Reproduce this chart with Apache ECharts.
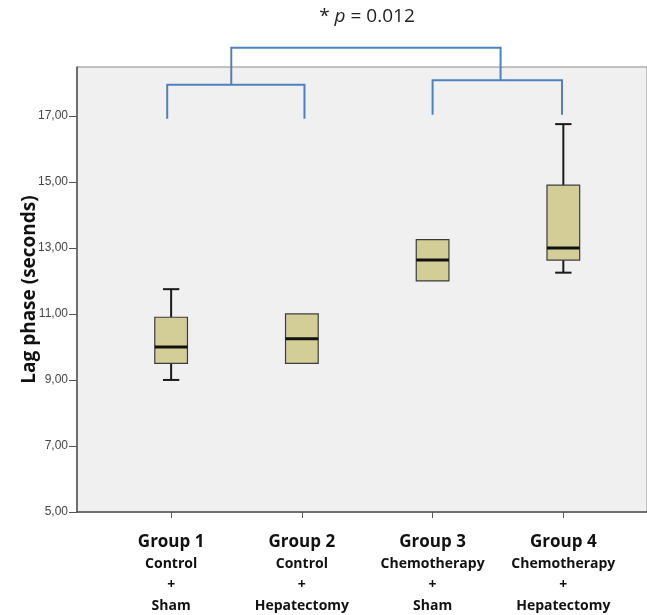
<!DOCTYPE html>
<html>
<head>
<meta charset="utf-8">
<script src="https://cdn.jsdelivr.net/npm/echarts@6/dist/echarts.min.js"></script>
<style>
  html, body { margin: 0; padding: 0; background: #fff; }
  #main { width: 647px; height: 615px; }
</style>
</head>
<body>
<div id="main"></div>
<script>
// groups on the x axis
var groupNames = ['Group 1', 'Group 2', 'Group 3', 'Group 4'];
var groupTreat = ['Control', 'Control', 'Chemotherapy', 'Chemotherapy'];
var groupSurg = ['Sham', 'Hepatectomy', 'Sham', 'Hepatectomy'];
var groupPos = [1, 2, 3, 4];

// box statistics (seconds)
var mins = [9.0, 9.5, 12.0, 12.25];
var q1s = [9.5, 9.5, 12.0, 12.63];
var medians = [10.0, 10.25, 12.63, 13.0];
var q3s = [10.9, 11.0, 13.25, 14.9];
var maxs = [11.75, 11.0, 13.25, 16.75];

// y axis tick labels
var yTicks = [5, 7, 9, 11, 13, 15, 17];

// significance brackets: [x left, x right, y top, y left end, y right end]
var bracketLow1 = [0.97, 2.02, 17.94, 16.91, 16.91];
var bracketLow2 = [3.0, 3.99, 18.08, 17.03, 17.03];
var bracketTop = [1.46, 3.52, 19.06, 17.94, 18.08];

var boxData = [];
for (var i = 0; i < groupPos.length; i++) {
	boxData.push([groupPos[i], mins[i], q1s[i], medians[i], q3s[i], maxs[i]]);
}

function renderBox(params, api) {
	var x = api.value(0);
	var w = api.size([1, 0])[0] * 0.25;
	var pMin = api.coord([x, api.value(1)]);
	var pQ1 = api.coord([x, api.value(2)]);
	var pMed = api.coord([x, api.value(3)]);
	var pQ3 = api.coord([x, api.value(4)]);
	var pMax = api.coord([x, api.value(5)]);
	var cx = pMed[0];
	var children = [];
	var wStyle = { stroke: '#1a1a1a', lineWidth: 2 };
	if (api.value(5) > api.value(4)) {
		children.push({ type: 'line', shape: { x1: cx, y1: pQ3[1], x2: cx, y2: pMax[1] }, style: wStyle });
		children.push({ type: 'line', shape: { x1: cx - w / 4, y1: pMax[1], x2: cx + w / 4, y2: pMax[1] }, style: wStyle });
	}
	if (api.value(1) < api.value(2)) {
		children.push({ type: 'line', shape: { x1: cx, y1: pQ1[1], x2: cx, y2: pMin[1] }, style: wStyle });
		children.push({ type: 'line', shape: { x1: cx - w / 4, y1: pMin[1], x2: cx + w / 4, y2: pMin[1] }, style: wStyle });
	}
	children.push({
		type: 'rect',
		shape: { x: cx - w / 2, y: pQ3[1], width: w, height: pQ1[1] - pQ3[1] },
		style: { fill: '#d3ce98', stroke: '#3c3c3c', lineWidth: 1.2 }
	});
	children.push({
		type: 'line',
		shape: { x1: cx - w / 2, y1: pMed[1], x2: cx + w / 2, y2: pMed[1] },
		style: { stroke: '#111', lineWidth: 3 }
	});
	return { type: 'group', children: children };
}

function renderBracket(params, api) {
	var a = api.coord([api.value(0), api.value(3)]);
	var b = api.coord([api.value(0), api.value(2)]);
	var c = api.coord([api.value(1), api.value(2)]);
	var d = api.coord([api.value(1), api.value(4)]);
	return {
		type: 'polyline',
		shape: { points: [a, b, c, d] },
		style: { stroke: '#4f81bd', lineWidth: 2, fill: null }
	};
}

var myChart = echarts.init(document.getElementById('main'));
myChart.setOption({
	animation: false,
	grid: {
		left: 77,
		right: 0,
		top: 67,
		bottom: 103,
		show: true,
		backgroundColor: '#f0f0f0',
		borderColor: '#8a8a8a',
		borderWidth: 1
	},
	graphic: [{
		type: 'text',
		x: 367,
		y: 17,
		style: {
			text: '{n|* }{i|p}{n| = 0.012}',
			textAlign: 'center',
			textVerticalAlign: 'middle',
			rich: {
				n: { fontFamily: 'Open Sans', fontSize: 19, fill: '#222' },
				i: { fontFamily: 'Open Sans', fontSize: 19, fontStyle: 'italic', fill: '#222' }
			}
		}
	}],
	xAxis: {
		type: 'value',
		min: 0.28,
		max: 4.64,
		splitLine: { show: false },
		axisLine: { show: true, lineStyle: { color: '#555', width: 1.5 } },
		axisTick: { show: true, customValues: groupPos, length: 6, lineStyle: { color: '#555' } },
		axisLabel: {
			customValues: groupPos,
			margin: 18,
			formatter: function(v) {
				var k = Math.round(v) - 1;
				return '{g|' + groupNames[k] + '}\n{s|' + groupTreat[k] + '}\n{s|+}\n{s|' + groupSurg[k] + '}';
			},
			rich: {
				g: { fontFamily: 'Open Sans', fontWeight: 'bold', fontSize: 17, lineHeight: 24, color: '#111' },
				s: { fontFamily: 'Open Sans', fontWeight: 'bold', fontSize: 14, lineHeight: 21, color: '#111' }
			}
		}
	},
	yAxis: {
		type: 'value',
		min: 5,
		max: 18.48,
		name: 'Lag phase (seconds)',
		nameLocation: 'middle',
		nameGap: 38,
		nameMoveOverlap: false,
		nameTextStyle: { fontFamily: 'Open Sans', fontWeight: 'bold', fontSize: 19, color: '#111' },
		splitLine: { show: false },
		axisLine: { show: true, lineStyle: { color: '#555', width: 1.5 } },
		axisTick: { show: true, customValues: yTicks, length: 8, lineStyle: { color: '#555' } },
		axisLabel: {
			customValues: yTicks,
			margin: 9,
			fontFamily: 'Liberation Sans',
			fontSize: 12,
			color: '#444',
			formatter: function(v) { return v.toFixed(2).replace('.', ','); }
		}
	},
	series: [{
		type: 'custom',
		name: 'boxes',
		renderItem: renderBox,
		encode: { x: 0, y: [1, 2, 3, 4, 5] },
		data: boxData,
		z: 3
	}, {
		type: 'custom',
		name: 'brackets',
		renderItem: renderBracket,
		encode: { x: [0, 1], y: [2, 3, 4] },
		clip: false,
		data: [bracketLow1, bracketLow2, bracketTop],
		z: 4
	}]
});
</script>
</body>
</html>
